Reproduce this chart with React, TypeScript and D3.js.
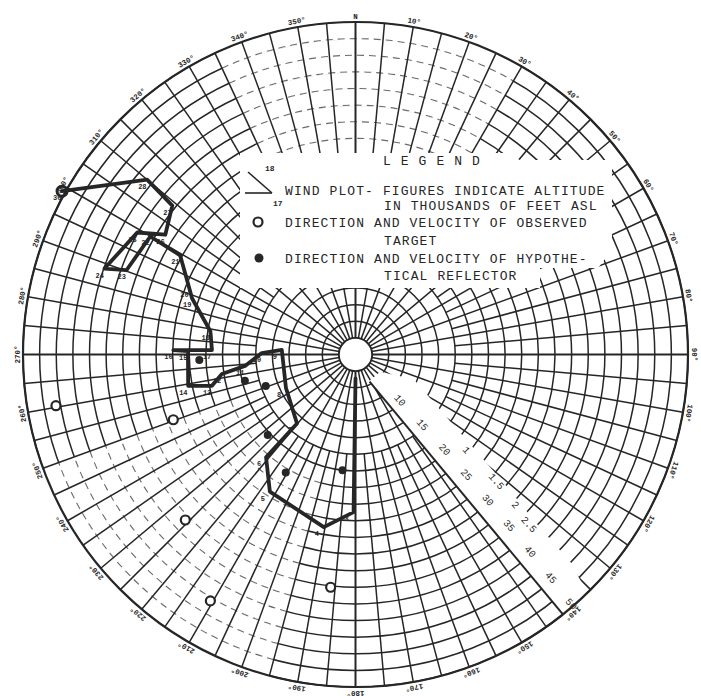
import React from 'react';
import * as d3 from 'd3';

// compass labels round the rim, every 10 degrees
const degreeLabels = ['N', '10°', '20°', '30°', '40°', '50°', '60°', '70°', '80°', '90°', '100°', '110°', '120°', '130°', '140°', '150°', '160°', '170°', '180°', '190°', '200°', '210°', '220°', '230°', '240°', '250°', '260°', '270°', '280°', '290°', '300°', '310°', '320°', '330°', '340°', '350°'];
const speedTicks = [10, 15, 20, 25, 30, 35, 40, 45, 50];
const minorTicks = ['1', '1.5', '2', '2.5'];
const minorTickSpeed = [22, 28.5, 33, 36.5];

// wind plot (direction deg, speed), from the hole outwards
const windDir = [180, 180.7, 190.4, 212.0, 221.0, 220.3, 244.4, 273.5, 270.9, 264.1, 261.7, 257.7, 259.4, 271.2, 271.4, 271.8, 279.1, 289.0, 291.7, 299.5, 299.9, 290.2, 288.9, 299.2, 302.2, 309.1, 310.0, 299.1];
const windSpeed = [3.6, 23.7, 26.4, 24.3, 20.5, 13.6, 11.6, 11.1, 14.1, 16.7, 20.3, 22.1, 25.6, 25.2, 27.4, 21.6, 22.1, 26.0, 26.9, 30.3, 35.6, 36.7, 39.9, 37.6, 33.8, 35.5, 40.9, 50.5];
const windAlt = ['', '3', '4', '5', '6', '7', '8', '9', '10', '11', '12', '13', '14', '15', '16', '17', '18', '19', '20', '21', '22', '23', '24', '25', '26', '27', '28', '30'];

// observed target (open circles)
const targetDir = [260.3, 250.3, 225.8, 210.5, 186.1];
const targetSpeed = [45.7, 29.1, 35.7, 43.0, 35.2];

// hypothetical reflector (filled dots)
const reflectorDir = [186.4, 210.6, 227.5, 250.7, 256.6, 268.0];
const reflectorSpeed = [17.5, 20.6, 17.9, 14.3, 17.1, 23.5];

const legendLines = [
  'WIND PLOT- FIGURES INDICATE ALTITUDE',
  'IN THOUSANDS OF FEET ASL',
  'DIRECTION AND VELOCITY OF OBSERVED',
  'TARGET',
  'DIRECTION AND VELOCITY OF HYPOTHE-',
  'TICAL REFLECTOR',
];

const W = 701, H = 696;
const CX = 355.5, CY = 354.5, R = 332.5;
const INK = '#262626';
const MONO = '"Liberation Mono", "DejaVu Sans Mono", monospace';

const rScale = d3.scaleLinear().domain([0, 50]).range([0, R]);
const aScale = d3.scaleLinear().domain([0, 360]).range([0, 2 * Math.PI]);

const pt = (dir: number, spd: number): [number, number] => {
  const a = aScale(dir), rr = rScale(spd);
  return [CX + rr * Math.sin(a), CY - rr * Math.cos(a)];
};

const arcPath = (spd: number, b0: number, b1: number) => {
  const p = d3.path();
  const [x, y] = pt(b0, spd);
  p.moveTo(x, y);
  p.arc(CX, CY, rScale(spd), aScale(b0) - Math.PI / 2, aScale(b1) - Math.PI / 2);
  return p.toString();
};

// faded sectors of the scan, rings come out broken there
const fadedSectors = [
  { from: 335, to: 390, min: 30 },
  { from: 195, to: 250, min: 20 },
];

const App: React.FC = () => {
  const rings = d3.range(2.5, 50.01, 2.5);
  const spokes = d3.range(0, 360, 5);
  const line = d3.line<number>()
    .x((_, i) => pt(windDir[i], windSpeed[i])[0])
    .y((_, i) => pt(windDir[i], windSpeed[i])[1]);

  const wedge = [[153, 4.5], [125, 4.5], [113, 9.5], [127, 20], [131, 30], [133, 37], [134, 45], [136, 50.5], [141.4, 50.5]]
    .map(([b, s]) => pt(b, s).join(',')).join(' ');
  const wedgeA = pt(152.6, 4.6), wedgeB = pt(141.4, 50);

  const legendMask = '240,153 505,153 520,160 612,160 612,250 598,268 540,268 540,288 240,288';
  const rimLabel = rScale.invert(R + 5.5);

  return (
    <svg width={W} height={H} style={{ position: 'absolute', left: 0, top: 0, background: '#fff' }}>
      <g fill="none" stroke={INK}>
        {rings.map(v => (
          <circle key={v} cx={CX} cy={CY} r={rScale(v)} strokeWidth={1.5} />
        ))}
        {rings.map(v => fadedSectors.filter(s => v >= s.min).map(s => (
          <g key={`${v}-${s.from}`}>
            <path d={arcPath(v, s.from, s.to)} stroke="#fff" strokeWidth={3} />
            <path d={arcPath(v, s.from, s.to)} stroke="#6a6a6a" strokeWidth={1.1} strokeDasharray="7 5" />
          </g>
        )))}
        {spokes.map(b => {
          const [x0, y0] = pt(b, b % 10 === 0 ? 2.5 : 15);
          const [x1, y1] = pt(b, 50);
          return <line key={b} x1={x0} y1={y0} x2={x1} y2={y1} strokeWidth={b % 90 === 0 ? 2 : 1.5} />;
        })}
      </g>

      {/* blank wedge carrying the speed scale */}
      <polygon points={wedge} fill="#fff" />
      <line x1={wedgeA[0]} y1={wedgeA[1]} x2={wedgeB[0]} y2={wedgeB[1]} stroke={INK} strokeWidth={2} />
      {speedTicks.map((v, i) => {
        const [x, y] = pt(136.5 + i * 0.35, v - 0.4);
        return (
          <text key={v} x={x} y={y} transform={`rotate(48 ${x} ${y})`} textAnchor="middle" dominantBaseline="central"
            fontFamily={MONO} fontSize={10} fill={INK}>{v}</text>
        );
      })}
      {minorTicks.map((t, i) => {
        const [x, y] = pt(131 + i * 1.2, minorTickSpeed[i]);
        return (
          <text key={t} x={x} y={y} transform={`rotate(48 ${x} ${y})`} textAnchor="middle" dominantBaseline="central"
            fontFamily={MONO} fontSize={10} fill={INK}>{t}</text>
        );
      })}

      {/* hole and rim */}
      <circle cx={CX} cy={CY} r={rScale(2.5)} fill="#fff" stroke={INK} strokeWidth={1.8} />
      <circle cx={CX} cy={CY} r={R} fill="none" stroke={INK} strokeWidth={2.2} />

      {degreeLabels.map((t, i) => {
        const b = i * 10;
        const [x, y] = pt(b, rimLabel);
        return (
          <text key={t} x={x} y={y} transform={`rotate(${b} ${x} ${y})`} textAnchor="middle" dominantBaseline="central"
            fontFamily={MONO} fontWeight="bold" fontSize={7.5} fill={INK}>{t}</text>
        );
      })}

      {/* legend pasted over the grid */}
      <polygon points={legendMask} fill="#fff" />
      <text x={383} y={165} fontFamily={MONO} fontSize={13} letterSpacing={1.1} fill={INK}>L E G E N D</text>
      {legendLines.map((t, i) => {
        const indent = t.startsWith('WIND') || t.startsWith('DIRECTION');
        const ys = [195, 210, 227, 245, 263, 280];
        return (
          <text key={i} x={indent ? 285 : 384} y={ys[i]} fontFamily={MONO} fontSize={13} letterSpacing={1.1} fill={INK}>{t}</text>
        );
      })}
      <line x1={248} y1={172} x2={272} y2={193} stroke={INK} strokeWidth={1.6} />
      <line x1={245} y1={193} x2={272} y2={193} stroke={INK} strokeWidth={1.6} />
      <text x={265} y={171} fontFamily={MONO} fontWeight="bold" fontSize={8} fill={INK}>18</text>
      <text x={273} y={206} fontFamily={MONO} fontWeight="bold" fontSize={8} fill={INK}>17</text>
      <circle cx={258} cy={222} r={4.5} fill="#fff" stroke={INK} strokeWidth={2.2} />
      <circle cx={259} cy={258} r={4.5} fill={INK} />

      {/* wind plot */}
      <path d={line(windDir) || ''} fill="none" stroke={INK} strokeWidth={3.8} strokeLinejoin="round" strokeLinecap="round" />
      {windAlt.map((t, i) => {
        if (!t) return null;
        const [x, y] = pt(windDir[i], windSpeed[i]);
        return (
          <text key={i} x={x - 9} y={y + 9} fontFamily={MONO} fontWeight="bold" fontSize={7} fill={INK}>{t}</text>
        );
      })}
      {(() => {
        const [x, y] = pt(windDir[windDir.length - 1], windSpeed[windSpeed.length - 1]);
        return <circle cx={x} cy={y} r={5} fill="none" stroke={INK} strokeWidth={3} />;
      })()}

      {reflectorDir.map((d, i) => {
        const [x, y] = pt(d, reflectorSpeed[i]);
        return <circle key={i} cx={x} cy={y} r={4} fill={INK} />;
      })}
      {targetDir.map((d, i) => {
        const [x, y] = pt(d, targetSpeed[i]);
        return <circle key={i} cx={x} cy={y} r={4.5} fill="#fff" stroke={INK} strokeWidth={2.2} />;
      })}
    </svg>
  );
};

export default App;
